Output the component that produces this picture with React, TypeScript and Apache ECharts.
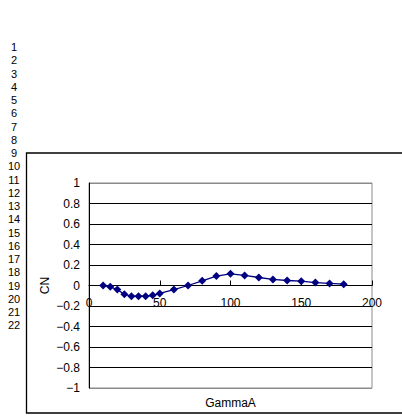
import React, { useEffect, useRef } from "react";
import * as echarts from "echarts";

// GammaA sample positions and the CN coefficient measured at each one
const gammaA = [10, 15, 20, 25, 30, 35, 40, 45, 50, 60, 70, 80, 90, 100, 110, 120, 130, 140, 150, 160, 170, 180];
const cnValues = [0, -0.013, -0.04, -0.085, -0.105, -0.105, -0.105, -0.095, -0.078, -0.04, 0, 0.046, 0.092, 0.114, 0.098, 0.078, 0.059, 0.049, 0.042, 0.029, 0.02, 0.013];

// spreadsheet row headers shown down the left edge
const rowNumbers = Array.from({ length: 22 }, (_, i) => String(i + 1));

const xTitle = "GammaA";
const yTitle = "CN";

const FONT = "'Liberation Sans', Arial, sans-serif";

const PLOT_TOP = 183;
const PLOT_BOTTOM = 388;

function fmtY(v: number): string {
  const s = String(Number(v.toFixed(1)));
  return s.replace("-", "\u2212");
}

export default function App() {
  const ref = useRef<HTMLDivElement>(null);

  useEffect(() => {
    if (!ref.current) return;
    const chart = echarts.init(ref.current, null, { renderer: "svg" });

    const rowTexts = rowNumbers.map((t, i) => ({
      type: "text",
      x: 14,
      y: 47 + i * 13.25,
      style: {
        text: t,
        fill: "#000",
        font: `11px ${FONT}`,
        textAlign: "center",
        textVerticalAlign: "middle",
      },
    }));

    // x axis drawn across the zero level of the CN scale
    const zeroOffset = -(PLOT_BOTTOM - PLOT_TOP) / 2;

    chart.setOption({
      animation: false,
      backgroundColor: "#fff",
      grid: {
        left: 89,
        right: 30,
        top: PLOT_TOP,
        bottom: 416 - PLOT_BOTTOM,
        show: true,
        borderColor: "#8a8a8a",
        borderWidth: 1,
        backgroundColor: "transparent",
      },
      graphic: [
        {
          type: "rect",
          shape: { x: 26.5, y: 153, width: 420, height: 260 },
          style: { fill: "none", stroke: "#000", lineWidth: 1.3 },
          silent: true,
        },
        ...rowTexts,
        {
          type: "text",
          x: 230.5,
          y: 403,
          style: {
            text: xTitle,
            fill: "#000",
            font: `12px ${FONT}`,
            textAlign: "center",
            textVerticalAlign: "middle",
          },
        },
        {
          type: "text",
          x: 45,
          y: 285.5,
          rotation: Math.PI / 2,
          style: {
            text: yTitle,
            fill: "#000",
            font: `12px ${FONT}`,
            textAlign: "center",
            textVerticalAlign: "middle",
          },
        },
      ],
      xAxis: {
        type: "value",
        min: 0,
        max: 200,
        interval: 50,
        position: "bottom",
        offset: zeroOffset,
        axisLine: { show: true, onZero: false, lineStyle: { color: "#000", width: 1 } },
        axisTick: { show: true, inside: true, length: 5, lineStyle: { color: "#000" } },
        axisLabel: { color: "#000", fontFamily: FONT, fontSize: 12, margin: 11 },
        splitLine: { show: false },
      },
      yAxis: {
        type: "value",
        min: -1,
        max: 1,
        interval: 0.2,
        axisLine: { show: true, onZero: false, lineStyle: { color: "#000", width: 1 } },
        axisTick: { show: false },
        axisLabel: {
          color: "#000",
          fontFamily: FONT,
          fontSize: 12,
          margin: 9,
          formatter: (v: number) => fmtY(v),
        },
        splitLine: {
          show: true,
          lineStyle: {
            color: ["#8a8a8a", "#000", "#000", "#000", "#000", "#000", "#000", "#000", "#000", "#000", "#8a8a8a"],
            width: 1,
          },
        },
      },
      series: [
        {
          type: "line",
          data: gammaA.map((g, i) => [g, cnValues[i]]),
          symbol: "diamond",
          symbolSize: 8,
          lineStyle: { color: "#000080", width: 1.3 },
          itemStyle: { color: "#000080" },
        },
      ],
    });

    return () => chart.dispose();
  }, []);

  return (
    <div
      ref={ref}
      style={{ position: "fixed", left: 0, top: 0, width: 402, height: 416 }}
    />
  );
}
